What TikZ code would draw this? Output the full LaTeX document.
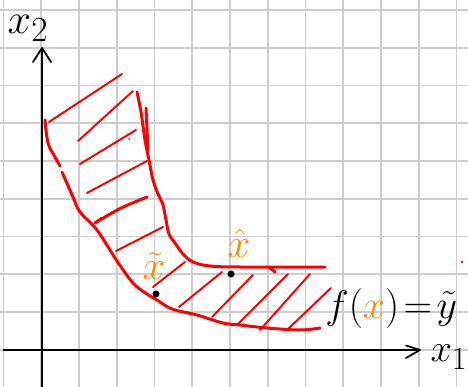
\documentclass[tikz,border=0pt]{standalone}
\definecolor{handred}{RGB}{255,0,0}
\definecolor{handorange}{RGB}{255,140,0}
\definecolor{gridgray}{RGB}{205,205,205}
\begin{document}
\begin{tikzpicture}[x=1pt,y=-1pt,
  gridline/.style={draw=gridgray,line width=1.6pt},
  axisline/.style={draw=black,line width=1.8pt},
  chevron/.style={draw=black,line width=1.8pt,line cap=round,line join=round},
  bound/.style={draw=handred,line width=3pt,line cap=round,line join=round},
  hatchline/.style={draw=handred,line width=2pt,line cap=round},
  bigtext/.style={inner sep=0pt,font=\Huge},
  midtext/.style={inner sep=0pt,font=\Huge,scale=1.65,text=handorange},
  dotmark/.style={fill=black,draw=none}]
\useasboundingbox (0,0) rectangle (468,387);
\fill[white] (0,0) rectangle (468,387);
% grid
\foreach \i in {0,...,12} \draw[gridline] ({3.5+37.75*\i},0) -- ({3.5+37.75*\i},387);
\foreach \j in {0,...,10} \draw[gridline] (0,{10+37.75*\j}) -- (468,{10+37.75*\j});
% axes
\coordinate (ybot) at (42,387);
\coordinate (ytop) at (42,48);
\coordinate (xleft) at (3,350);
\coordinate (xright) at (420,350);
\draw[axisline] (ybot) -- (ytop);
\draw[axisline] (xleft) -- (xright);
\draw[chevron] (33,62) -- (ytop) -- (51,62);
\draw[chevron] (406,345.5) -- (xright) -- (406,358);
\node[bigtext,scale=1.7] (lx2) at (28,28) {$x_2$};
\node[bigtext,scale=1.55] (lx1) at (449,357) {$x_1$};
% region boundaries
\draw[bound] plot[smooth,tension=0.6] coordinates {(45,120) (48,143) (55,157) (60,166)};
\draw[bound] plot[smooth,tension=0.6] coordinates {(62,172) (73,197) (80,212) (97,230) (117,261) (133,283) (147,294) (157,300) (172,309) (197,315) (223,323) (240,325) (267,328) (300,330) (320,328)};
\draw[bound] plot[smooth,tension=0.6] coordinates {(137,92) (141,112) (145,140) (149,160) (153,180) (158,194) (163,205) (166,220) (169,234) (175,243) (183,254) (193,262) (210,266) (240,267) (325,267)};
\draw[bound] (146,108) -- (148,150);
\draw[bound] (270,268) -- (275,272);
% hatching
\draw[hatchline] (49,122) -- (122,74);
\draw[hatchline] (78,141) -- (133,91);
\draw[hatchline] (80,164) -- (136,130);
\draw[hatchline] (87,193) -- (147,161);
\draw[bound] (147,197) .. controls (120,208) .. (95,223) -- (102,218);
\draw[hatchline] (116,251) -- (163,227);
\draw[hatchline] (153,287) -- (185,262);
\draw[hatchline] (179,307) -- (222,272);
\draw[hatchline] (212,317) -- (253,275);
\draw[hatchline] (237,325) -- (288,274);
\draw[hatchline] (260,330) -- (310,274);
\draw[hatchline] (287,330) -- (331,288);
\fill[handred] (129,139) circle (1pt);
\fill[handred] (462,262) circle (1.3pt);
% points
\fill[dotmark] (156,294) circle (3.5pt);
\fill[dotmark] (231,274) circle (3.5pt);
\node[midtext] (xtilde) at (154,266) {$\tilde{x}$};
\node[midtext] (xhat) at (239,243) {$\hat{x}$};
\node[bigtext,scale=1.6,anchor=base west] (eq) at (325,318) {$f(\textcolor{handorange}{x})\!=\!\tilde{y}$};
\end{tikzpicture}
\end{document}
